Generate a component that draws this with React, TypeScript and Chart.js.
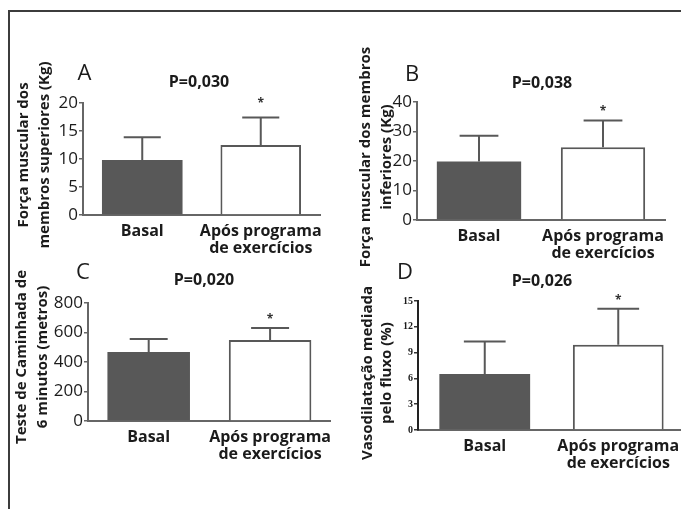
import React, { useEffect, useRef } from 'react';
import { Chart, registerables } from 'chart.js';

Chart.register(...registerables);

// ---------- data ----------
const categories: (string | string[])[] = ['Basal', ['Após programa', 'de exercícios']];

const upperLimbMeans = [9.8, 12.5];
const upperLimbSD = [4.1, 4.9];
const lowerLimbMeans = [19.8, 24.7];
const lowerLimbSD = [8.8, 9.0];
const walkMeans = [468, 549];
const walkSD = [88, 81];
const fmdMeans = [6.5, 9.9];
const fmdSD = [3.8, 4.2];

const significant = [false, true];
const pValues = ['P=0,030', 'P=0,038', 'P=0,020', 'P=0,026'];
const panelLetters = ['A', 'B', 'C', 'D'];
const yTitles = [
  ['Força muscular dos', 'membros superiores (Kg)'],
  ['Força muscular dos membros', 'inferiores (Kg)'],
  ['Teste de Caminhada de', '6 minutos (metros)'],
  ['Vasodilatação mediada', 'pelo fluxo (%)'],
];
const yMax = [20, 40, 800, 15];
const yStep = [5, 10, 200, 3];

const seriesMeans = [upperLimbMeans, lowerLimbMeans, walkMeans, fmdMeans];
const seriesSD = [upperLimbSD, lowerLimbSD, walkSD, fmdSD];

// ---------- layout (page pixel coordinates) ----------
type Layout = {
  canvas: { x: number; y: number; w: number; h: number };
  area: { l: number; t: number; r: number; b: number };
  letter: { x: number; y: number };
  p: { x: number; y: number };
  title: { x: number[]; y: number };
  starGap: number;
  serifTicks?: boolean;
};

const layouts: Layout[] = [
  {
    canvas: { x: 0, y: 30, w: 340, h: 250 },
    area: { l: 83, t: 103, r: 320, b: 215 },
    letter: { x: 84.5, y: 74 },
    p: { x: 199, y: 82 },
    title: { x: [24, 45], y: 155 },
    starGap: 17,
  },
  {
    canvas: { x: 340, y: 30, w: 341, h: 250 },
    area: { l: 417, t: 102, r: 665, b: 220 },
    letter: { x: 412, y: 75 },
    p: { x: 542, y: 83 },
    title: { x: [366, 387], y: 157 },
    starGap: 12,
  },
  {
    canvas: { x: 0, y: 250, w: 340, h: 240 },
    area: { l: 88, t: 303, r: 332, b: 421 },
    letter: { x: 83, y: 273 },
    p: { x: 204, y: 280 },
    title: { x: [22, 43], y: 357 },
    starGap: 11,
  },
  {
    canvas: { x: 340, y: 250, w: 360, h: 240 },
    area: { l: 418, t: 301, r: 685, b: 430 },
    letter: { x: 405, y: 273 },
    p: { x: 542, y: 281 },
    title: { x: [368, 387], y: 373 },
    starGap: 11,
    serifTicks: true,
  },
];

const FONT = "'Open Sans', 'Noto Sans', sans-serif";
const TEXT = '#1b1b1b';
const DARK = '#585858';
const AXIS = '#666666';

const decorPlugin = {
  id: 'decor',
  afterDatasetsDraw(chart: any, _args: any, opts: any) {
    const ctx: CanvasRenderingContext2D = chart.ctx;
    const meta = chart.getDatasetMeta(0);
    const yScale = chart.scales.y;
    const L: Layout = opts.layout;
    const ox = L.canvas.x;
    const oy = L.canvas.y;
    ctx.save();
    // error bars + significance stars
    (opts.means as number[]).forEach((m: number, i: number) => {
      const el = meta.data[i];
      if (!el) return;
      const top = yScale.getPixelForValue(m + opts.sds[i]);
      const base = yScale.getPixelForValue(m);
      const half = el.width * 0.23;
      ctx.strokeStyle = DARK;
      ctx.lineWidth = 2;
      ctx.beginPath();
      ctx.moveTo(el.x, base);
      ctx.lineTo(el.x, top);
      ctx.moveTo(el.x - half, top);
      ctx.lineTo(el.x + half, top);
      ctx.stroke();
      if (opts.sig[i]) {
        ctx.fillStyle = '#333333';
        ctx.font = `700 12px ${FONT}`;
        ctx.textAlign = 'center';
        ctx.textBaseline = 'middle';
        ctx.fillText('*', el.x, top - L.starGap + 3);
      }
    });
    // panel letter
    ctx.fillStyle = TEXT;
    ctx.textAlign = 'center';
    ctx.textBaseline = 'middle';
    ctx.font = `400 22px ${FONT}`;
    ctx.fillText(opts.letter, L.letter.x - ox, L.letter.y - oy);
    // p value
    ctx.font = `700 16px ${FONT}`;
    ctx.fillText(opts.pText, L.p.x - ox, L.p.y - oy);
    // y title
    ctx.font = `700 15px ${FONT}`;
    (opts.title as string[]).forEach((line: string, i: number) => {
      ctx.save();
      ctx.translate(L.title.x[i] - ox, L.title.y - oy);
      ctx.rotate(-Math.PI / 2);
      ctx.fillText(line, 0, 0);
      ctx.restore();
    });
    ctx.restore();
  },
};

function Panel({ index }: { index: number }) {
  const ref = useRef<HTMLCanvasElement | null>(null);
  const L = layouts[index];
  useEffect(() => {
    if (!ref.current) return;
    const tickFont = L.serifTicks
      ? { family: "'Liberation Serif', 'DejaVu Serif', serif", size: 10, weight: 'bold' as const }
      : { family: FONT, size: 17, weight: 'normal' as const };
    const chart = new Chart(ref.current, {
      type: 'bar',
      data: {
        labels: categories as any,
        datasets: [
          {
            data: seriesMeans[index],
            backgroundColor: [DARK, '#ffffff'],
            borderColor: [DARK, DARK],
            borderWidth: [0, 2] as any,
            borderSkipped: 'start',
            barPercentage: 0.68,
            categoryPercentage: 1,
          },
        ],
      },
      plugins: [decorPlugin],
      options: {
        responsive: false,
        maintainAspectRatio: false,
        animation: false,
        events: [],
        layout: {
          padding: {
            left: 0,
            top: L.area.t - L.canvas.y,
            right: L.canvas.x + L.canvas.w - L.area.r,
            bottom: 0,
          },
        },
        plugins: {
          legend: { display: false },
          tooltip: { enabled: false },
          title: { display: false },
          decor: {
            layout: L,
            means: seriesMeans[index],
            sds: seriesSD[index],
            sig: significant,
            letter: panelLetters[index],
            pText: pValues[index],
            title: yTitles[index],
          },
        } as any,
        scales: {
          x: {
            type: 'category',
            grid: { display: false, drawTicks: false },
            border: { display: true, color: AXIS, width: 2 },
            ticks: {
              color: TEXT,
              font: { family: FONT, size: 16, weight: 'bold', lineHeight: 1.12 },
              padding: 7,
              maxRotation: 0,
              minRotation: 0,
              autoSkip: false,
            },
            afterFit: (s: any) => {
              s.height = L.canvas.y + L.canvas.h - L.area.b;
            },
          },
          y: {
            min: 0,
            max: yMax[index],
            border: { display: true, color: L.serifTicks ? '#222222' : AXIS, width: 2 },
            grid: {
              display: true,
              drawOnChartArea: false,
              drawTicks: true,
              tickLength: 4,
              color: L.serifTicks ? '#333333' : AXIS,
              lineWidth: 1.5,
            },
            ticks: {
              stepSize: yStep[index],
              color: TEXT,
              font: tickFont,
              padding: 1,
            },
            afterFit: (s: any) => {
              s.width = L.area.l - L.canvas.x;
            },
          },
        },
      },
    });
    return () => chart.destroy();
  }, [index]);
  return (
    <canvas
      ref={ref}
      width={L.canvas.w}
      height={L.canvas.h}
      style={{
        position: 'absolute',
        left: L.canvas.x,
        top: L.canvas.y,
        width: L.canvas.w,
        height: L.canvas.h,
      }}
    />
  );
}

export default function App() {
  return (
    <div
      style={{
        position: 'fixed',
        left: 0,
        top: 0,
        width: 681,
        height: 509,
        overflow: 'hidden',
        background: '#ffffff',
      }}
    >
      <div
        style={{
          position: 'absolute',
          left: 8,
          top: 10,
          width: 700,
          height: 520,
          borderTop: '2px solid #3c3c3c',
          borderLeft: '2px solid #3c3c3c',
        }}
      />
      {layouts.map((_, i) => (
        <Panel key={i} index={i} />
      ))}
    </div>
  );
}
